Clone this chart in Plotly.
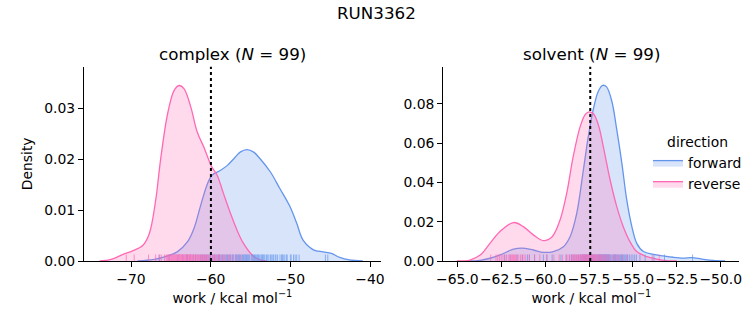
import plotly.graph_objects as go

# ---------------- data ----------------
panel_titles = ["complex (<i>N</i> = 99)", "solvent (<i>N</i> = 99)"]
suptitle = "RUN3362"
directions = ["forward", "reverse"]

# complex panel KDE curves
cx_fwd = [-69.2, -67.1, -65.4, -64.2, -62.9, -62.1, -61.3, -60.4, -59.8, -58.8, -57.9, -57.1, -56.3,
          -55.45, -54.6, -53.8, -52.5, -51.3, -50.05, -49.2, -48.4, -47.1, -45.9, -44.85, -43.8, -42.6, -40.9]
cy_fwd = [0.0, 0.0003, 0.001, 0.0018, 0.0038, 0.0064, 0.0107, 0.0152, 0.0169, 0.0178, 0.0188, 0.0201, 0.0214,
          0.0219, 0.0214, 0.0201, 0.0175, 0.0142, 0.0107, 0.0074, 0.0041, 0.0022, 0.0018, 0.0015, 0.0007, 0.0002, 0.0]
cx_rev = [-73.95, -72.5, -71.0, -69.8, -68.5, -67.7, -66.9, -66.3, -65.4, -64.6, -63.97, -63.35, -62.5,
          -61.7, -60.86, -59.9, -59.2, -58.4, -57.5, -56.7, -55.9, -54.8, -53.8, -53.0]
cy_rev = [0.0, 0.0003, 0.0013, 0.002, 0.0031, 0.0054, 0.012, 0.0198, 0.029, 0.0335, 0.0345, 0.0339, 0.0303,
          0.0254, 0.0224, 0.0186, 0.0169, 0.0133, 0.0093, 0.0061, 0.0035, 0.0012, 0.0002, 0.0]

# solvent panel KDE curves
sx_fwd = [-64.47, -63.7, -63.14, -62.57, -61.8, -61.33, -60.67, -60.1, -59.53, -58.96, -58.58, -58.2, -57.82,
          -57.54, -57.26, -56.97, -56.72, -56.5, -56.2, -55.92, -55.63, -55.35, -55.06, -54.78, -54.4, -53.83,
          -53.27, -52.7, -52.13, -51.65, -51.08, -50.42, -49.75]
sy_fwd = [0.0, 0.0003, 0.0014, 0.0031, 0.006, 0.0066, 0.0056, 0.0044, 0.0048, 0.0073, 0.0124, 0.0243, 0.0465,
          0.0635, 0.0771, 0.0865, 0.0895, 0.0887, 0.0814, 0.0669, 0.0499, 0.0311, 0.0175, 0.009, 0.0048, 0.0034,
          0.0026, 0.0019, 0.0015, 0.0017, 0.001, 0.0003, 0.0]
sx_rev = [-65.03, -64.28, -63.7, -63.14, -62.57, -61.8, -61.24, -60.67, -60.1, -59.6, -59.15, -58.77, -58.4,
          -58.0, -57.73, -57.54, -57.26, -56.97, -56.69, -56.3, -55.92, -55.55, -55.17, -54.78, -54.2, -53.65,
          -53.1, -52.5]
sy_rev = [0.0, 0.0005, 0.003, 0.009, 0.015, 0.0196, 0.0175, 0.0133, 0.0104, 0.0124, 0.0209, 0.0346, 0.0533,
          0.0686, 0.0745, 0.0759, 0.0751, 0.0694, 0.0584, 0.0414, 0.0277, 0.0175, 0.0099, 0.0048, 0.0022, 0.001,
          0.0002, 0.0]

# rug samples (work values)
rug_c_fwd = [-66.4, -65.2, -64.1, -63.5, -63.0, -62.6, -62.2, -61.9, -61.6, -61.3, -61.0, -60.8, -60.5, -60.3,
             -60.0, -59.8, -59.5, -59.3, -59.0, -58.8, -58.5, -58.3, -58.0, -57.8, -57.5, -57.3, -57.1, -56.9,
             -56.7, -56.5, -56.3, -56.1, -55.9, -55.7, -55.5, -55.3, -55.1, -54.9, -54.7, -54.5, -54.3, -54.1,
             -53.9, -53.7, -53.5, -53.2, -53.0, -52.7, -52.5, -52.2, -51.9, -51.6, -51.3, -51.0, -50.7, -50.4,
             -50.0, -49.6, -49.2, -48.9, -45.6, -45.3, -62.9, -61.1, -60.1, -59.1, -58.6, -58.1, -57.6, -57.2,
             -56.8, -56.4, -56.0, -55.6, -55.2, -54.8, -54.4, -54.0, -53.6, -53.3, -52.9, -52.4, -51.8, -51.1,
             -50.5, -49.9, -49.4, -58.9, -57.9, -56.6, -55.4, -54.6, -53.4, -52.1, -50.9, -60.6, -59.6, -55.8,
             -54.2]
rug_c_rev = [-70.6, -69.6, -67.8, -66.9, -66.2, -65.8, -65.6, -65.4, -65.3, -65.2, -65.0, -64.9, -64.8, -64.7,
             -64.6, -64.5, -64.4, -64.3, -64.2, -64.1, -64.0, -64.0, -63.9, -63.8, -63.7, -63.6, -63.5, -63.4,
             -63.3, -63.2, -63.1, -63.0, -62.9, -62.8, -62.7, -62.6, -62.5, -62.4, -62.3, -62.2, -62.0, -61.9,
             -61.8, -61.6, -61.5, -61.3, -61.2, -61.0, -60.8, -60.6, -60.4, -60.2, -60.0, -59.8, -59.5, -59.2,
             -58.9, -58.6, -58.2, -57.8, -57.3, -56.8, -56.3, -65.5, -65.1, -64.85, -64.65, -64.45, -64.25,
             -64.05, -63.95, -63.85, -63.65, -63.45, -63.25, -63.05, -62.85, -62.65, -62.45, -62.15, -61.95,
             -61.7, -61.4, -61.1, -60.9, -60.5, -60.1, -59.7, -59.0, -58.4, -57.6, -66.5, -64.35, -63.75, -63.15,
             -62.55, -61.85, -60.7, -59.4]
rug_s_fwd = [-62.3, -61.6, -61.0, -60.6, -60.1, -59.6, -59.1, -58.8, -58.5, -58.3, -58.1, -57.95, -57.8, -57.7,
             -57.6, -57.5, -57.4, -57.3, -57.2, -57.1, -57.0, -56.95, -56.9, -56.85, -56.8, -56.75, -56.7, -56.65,
             -56.6, -56.55, -56.5, -56.45, -56.4, -56.35, -56.3, -56.2, -56.1, -56.0, -55.9, -55.8, -55.7, -55.6,
             -55.5, -55.4, -55.3, -55.1, -54.9, -54.6, -53.2, -51.6, -57.9, -57.75, -57.65, -57.55, -57.45,
             -57.35, -57.25, -57.15, -57.05, -56.98, -56.92, -56.88, -56.82, -56.78, -56.72, -56.68, -56.62,
             -56.58, -56.52, -56.48, -56.42, -56.38, -56.32, -56.25, -56.15, -56.05, -55.95, -55.85, -55.75,
             -55.65, -55.55, -55.45, -55.35, -55.2, -55.0, -54.8, -58.0, -58.2, -58.4, -58.6, -61.3, -62.0, -60.9,
             -59.9, -54.3, -53.8, -57.85, -56.0, -56.6]
rug_s_rev = [-63.1, -62.8, -62.6, -62.4, -62.2, -62.0, -61.9, -61.8, -61.7, -61.6, -61.5, -61.3, -61.1, -60.9,
             -60.6, -60.3, -59.9, -59.5, -59.2, -59.0, -58.8, -58.6, -58.5, -58.4, -58.3, -58.2, -58.1, -58.0,
             -57.9, -57.85, -57.8, -57.75, -57.7, -57.65, -57.6, -57.55, -57.5, -57.45, -57.4, -57.35, -57.3,
             -57.25, -57.2, -57.15, -57.1, -57.0, -56.9, -56.8, -56.7, -56.6, -56.5, -56.3, -56.1, -55.9, -55.6,
             -55.3, -53.9, -53.5, -62.7, -62.5, -62.3, -62.1, -61.95, -61.85, -61.75, -61.65, -61.4, -61.2,
             -58.7, -58.45, -58.35, -58.25, -58.15, -58.05, -57.95, -57.88, -57.82, -57.78, -57.72, -57.68,
             -57.62, -57.58, -57.52, -57.48, -57.42, -57.38, -57.32, -57.28, -57.22, -57.18, -57.12, -57.05,
             -56.95, -56.85, -56.75, -56.55, -56.4, -56.0, -55.8]

# dotted reference lines (per panel)
ref_lines = [-59.97, -57.43]

# ---------------- styling ----------------
FONT = "DejaVu Sans"
C_LINE = {"forward": "rgb(100,149,237)", "reverse": "rgb(255,105,180)"}
C_FILL = {"forward": "rgba(100,149,237,0.25)", "reverse": "rgba(255,105,180,0.25)"}
W, H = 753, 325

fig = go.Figure()

panels = [
    ("x", "y", {"forward": (cx_fwd, cy_fwd, rug_c_fwd), "reverse": (cx_rev, cy_rev, rug_c_rev)}, 0.0382),
    ("x2", "y2", {"forward": (sx_fwd, sy_fwd, rug_s_fwd), "reverse": (sx_rev, sy_rev, rug_s_rev)}, 0.0990),
]

for pi, (xa, ya, series, ymax) in enumerate(panels):
    for d in directions:
        xs, ys, rug = series[d]
        fig.add_trace(go.Scatter(
            x=xs, y=ys, xaxis=xa, yaxis=ya, mode="lines", name=d,
            line=dict(color=C_LINE[d], width=1.3, shape="spline", smoothing=1.0),
            fill="tozeroy", fillcolor=C_FILL[d],
            showlegend=(pi == 0), legendgroup=d))
    for d in directions:
        xs, ys, rug = series[d]
        fig.add_trace(go.Scatter(
            x=rug, y=[ymax * 0.0135] * len(rug), xaxis=xa, yaxis=ya, mode="markers",
            marker=dict(symbol="line-ns", size=5.5, line=dict(color=C_LINE[d], width=1)),
            opacity=0.7, showlegend=False, hoverinfo="skip"))

# domains
x1d = [84 / W, 380.7 / W]
x2d = [443.3 / W, 739.3 / W]
yd = [(H - 261) / H, (H - 66.7) / H]

axis_common = dict(showline=True, linecolor="black", linewidth=1.1, ticks="outside", ticklen=5,
                   tickwidth=1.1, tickcolor="black", showgrid=False, zeroline=False, tickangle=0,
                   automargin=False, tickfont=dict(family=FONT, size=13.9, color="black"))

xlabel = "work / kcal mol<sup>−1</sup>"
fig.update_layout(
    width=W, height=H, margin=dict(l=0, r=0, t=0, b=0, autoexpand=False),
    paper_bgcolor="white", plot_bgcolor="white",
    font=dict(family=FONT, size=13.9, color="black"),
    xaxis=dict(domain=x1d, anchor="y", range=[-75.9, -38.66], tickvals=[-70, -60, -50, -40],
               title=dict(text=xlabel, font=dict(size=13.9), standoff=7), **axis_common),
    yaxis=dict(domain=yd, anchor="x", range=[0, 0.0382], tickvals=[0, 0.01, 0.02, 0.03],
               tickformat=".2f", title=dict(text="Density", font=dict(size=13.9), standoff=8),
               **axis_common),
    xaxis2=dict(domain=x2d, anchor="y2", range=[-65.8, -48.94],
                tickvals=[-65, -62.5, -60, -57.5, -55, -52.5, -50], tickformat=".1f",
                title=dict(text=xlabel, font=dict(size=13.9), standoff=7), **axis_common),
    yaxis2=dict(domain=yd, anchor="x2", range=[0, 0.0990], tickvals=[0, 0.02, 0.04, 0.06, 0.08],
                tickformat=".2f", **axis_common),
    legend=dict(x=648 / W, y=(H - 129) / H, xanchor="left", yanchor="top",
                bgcolor="rgba(0,0,0,0)", font=dict(family=FONT, size=13.9),
                title=dict(text="direction", side="top center", font=dict(size=13.9)),
                traceorder="normal", itemwidth=30, tracegroupgap=0),
)

# titles
fig.add_annotation(text=suptitle, x=0.5, y=(H - 13) / H, xref="paper", yref="paper",
                   showarrow=False, font=dict(family=FONT, size=16.7),
                   xanchor="center", yanchor="middle")
for i, t in enumerate(panel_titles):
    dom = x1d if i == 0 else x2d
    fig.add_annotation(text=t, x=(dom[0] + dom[1]) / 2, y=(H - 54) / H, xref="paper", yref="paper",
                       showarrow=False, font=dict(family=FONT, size=16.7),
                       xanchor="center", yanchor="middle")

# dotted reference lines
for i, v in enumerate(ref_lines):
    xr = "x" if i == 0 else "x2"
    yr = "y domain" if i == 0 else "y2 domain"
    fig.add_shape(type="line", xref=xr, yref=yr, x0=v, x1=v, y0=0, y1=1,
                  line=dict(color="black", width=2, dash="dot"))

fig.write_html("out.html")
